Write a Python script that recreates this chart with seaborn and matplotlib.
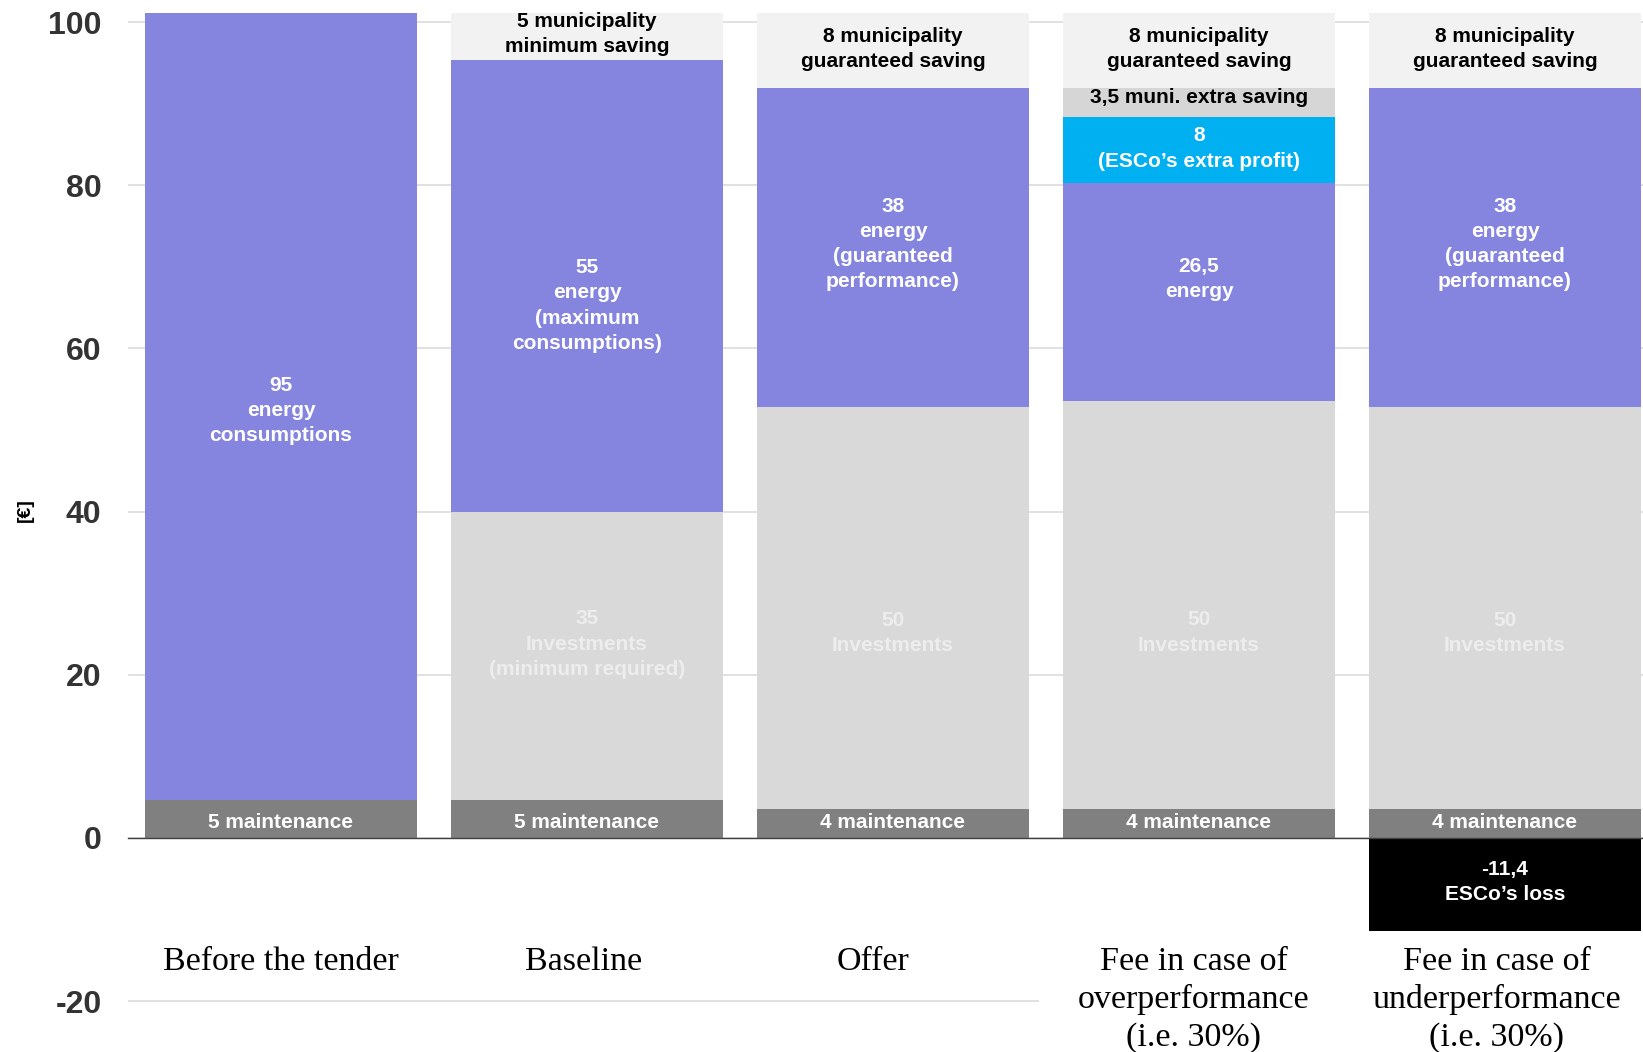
import matplotlib
matplotlib.use("Agg")
import matplotlib.pyplot as plt
import numpy as np
import pandas as pd
import seaborn as sns

# data
stages = ["Before the tender", "Baseline", "Offer",
          "Fee in case of\noverperformance\n(i.e. 30%)",
          "Fee in case of\nunderperformance\n(i.e. 30%)"]

maintenance = [4.7, 4.7, 3.5, 3.5, 3.5]
investments = [0.0, 35.3, 49.3, 50.0, 49.3]
energy = [96.4, 55.3, 39.1, 26.8, 39.1]
esco_profit = [0.0, 0.0, 0.0, 8.0, 0.0]
muni_extra = [0.0, 0.0, 0.0, 3.6, 0.0]
muni_saving = [0.0, 5.8, 9.2, 9.2, 9.2]
esco_loss = [0.0, 0.0, 0.0, 0.0, -11.4]

maintenance_txt = ["5 maintenance", "5 maintenance", "4 maintenance",
                   "4 maintenance", "4 maintenance"]
investments_txt = ["", "35\nInvestments\n(minimum required)", "50\nInvestments",
                   "50\nInvestments", "50\nInvestments"]
energy_txt = ["95\nenergy\nconsumptions", "55\nenergy\n(maximum\nconsumptions)",
              "38\nenergy\n(guaranteed\nperformance)", "26,5\nenergy",
              "38\nenergy\n(guaranteed\nperformance)"]
profit_txt = ["", "", "", "8\n(ESCo’s extra profit)", ""]
extra_txt = ["", "", "", "3,5 muni. extra saving", ""]
saving_txt = ["", "5 municipality\nminimum saving", "8 municipality\nguaranteed saving",
              "8 municipality\nguaranteed saving", "8 municipality\nguaranteed saving"]
loss_txt = ["", "", "", "", "-11,4\nESCo’s loss"]

yticks = [-20, 0, 20, 40, 60, 80, 100]

sns.set_style("white")
plt.rcParams["font.family"] = ["Liberation Sans", "DejaVu Sans"]
plt.rcParams["axes.unicode_minus"] = False

# (column, values, bar colour, labels, label colour), bottom to top
layers = [
    ("maintenance", maintenance, "#808080", maintenance_txt, "white"),
    ("investments", investments, "#D9D9D9", investments_txt, "#EDEDED"),
    ("energy", energy, "#8585E0", energy_txt, "white"),
    ("profit", esco_profit, "#00B0F0", profit_txt, "white"),
    ("extra", muni_extra, "#D6D6D6", extra_txt, "black"),
    ("saving", muni_saving, "#F2F2F2", saving_txt, "black"),
]

# the labels in the original were nudged by hand a little off the segment middle
label_nudge = {
    "maintenance": [-0.45, -0.45, 0.15, 0.15, 0.15],
    "investments": [0, 1.4, -3.0, -3.3, -3.0],
    "energy": [-0.5, -2.4, 0.45, 1.6, 0.45],
    "profit": [0, 0, 0, 0.2, 0],
    "extra": [0, 0, 0, 0.6, 0],
    "saving": [0, 0.3, 0.2, 0.2, 0.2],
}
stage_nudge = [0, -0.01, -0.065, -0.017, -0.027]

df = pd.DataFrame({"stage": stages, "loss": esco_loss})
for name, vals, _, _, _ in layers:
    df[name] = vals
cols = [l[0] for l in layers]
tops = df[cols].cumsum(axis=1)
for c in cols:
    df["top_" + c] = tops[c]

fig = plt.figure(figsize=(16.43, 10.52), dpi=100)
ax = fig.add_axes([128 / 1643, 0, 1 - 128 / 1643, 1])

# stacked bars: draw cumulative tops from the highest layer down
for name, vals, color, _, _ in reversed(layers):
    sns.barplot(data=df, x="stage", y="top_" + name, color=color, saturation=1,
                width=0.89, linewidth=0, errorbar=None, ax=ax, zorder=2)
sns.barplot(data=df, x="stage", y="loss", color="black", saturation=1,
            width=0.89, linewidth=0, errorbar=None, ax=ax, zorder=2)

# segment labels
for name, vals, _, texts, tcolor in layers:
    for i, (v, top, t) in enumerate(zip(vals, df["top_" + name], texts)):
        if t:
            ax.text(i, top - v / 2 + label_nudge[name][i], t, ha="center",
                    va="center", color=tcolor, fontsize=15, fontweight="bold",
                    linespacing=1.42, zorder=4)
for i, (v, t) in enumerate(zip(esco_loss, loss_txt)):
    if t:
        ax.text(i, v / 2 + 0.3, t, ha="center", va="center", color="white",
                fontsize=15, fontweight="bold", linespacing=1.42, zorder=4)

# category labels under the axis
for i, s in enumerate(stages):
    kw = {}
    if "\n" in s:
        kw["bbox"] = dict(facecolor="white", edgecolor="none", pad=28)
    ax.text(i + stage_nudge[i], -13.3, s, ha="center", va="top", fontsize=24.5,
            family=["Liberation Serif", "DejaVu Serif"], color="black",
            linespacing=1.29, zorder=1.5, **kw)

ax.set_xlim(-0.5, 4.451)
ax.set_ylim(-26.23, 102.7)
ax.set_yticks(yticks)
ax.set_xticks(range(len(stages)))
ax.set_xticks(np.arange(-0.5, len(stages) - 0.5, 1), minor=True)
ax.tick_params(axis="x", which="major", length=0, labelbottom=False)
ax.tick_params(axis="x", which="minor", length=7, width=1, color="#404040",
               direction="out")
ax.tick_params(axis="y", length=0, pad=19, labelsize=23, labelcolor="#333333")
for t in ax.get_yticklabels():
    t.set_fontweight("bold")

ax.grid(axis="y", color="#D9D9D9", linewidth=1.1)
ax.grid(axis="x", visible=False)
ax.set_axisbelow(True)

for side in ["left", "right", "top"]:
    ax.spines[side].set_visible(False)
ax.spines["bottom"].set_position(("data", 0))
ax.spines["bottom"].set_color("#404040")
ax.spines["bottom"].set_linewidth(1)

ax.set_xlabel("")
ax.set_ylabel("[€]", fontsize=14, fontweight="bold", color="black", va="center")
ax.yaxis.set_label_coords(-0.068, 0.515)

fig.savefig("out.png", dpi=100)
